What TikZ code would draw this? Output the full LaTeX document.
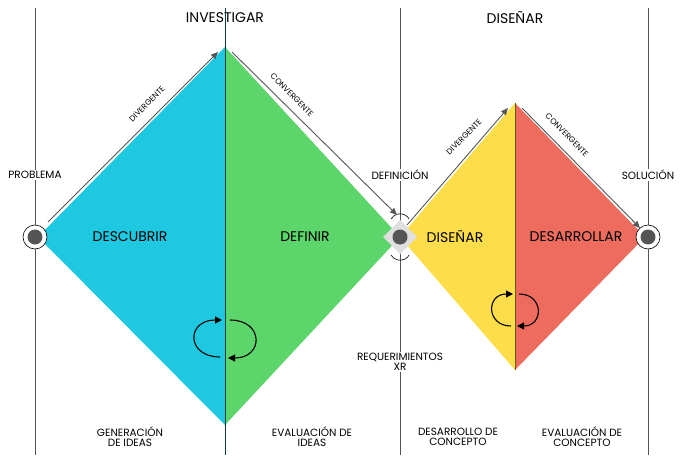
\documentclass[tikz,border=0pt]{standalone}
\usepackage{fontspec}
\setmainfont{Poppins}
\usetikzlibrary{arrows.meta}
\definecolor{cy}{HTML}{1EC8E0}
\definecolor{gr}{HTML}{5CD66A}
\definecolor{ye}{HTML}{FDDE4A}
\definecolor{re}{HTML}{EE6C5E}
\definecolor{dg}{HTML}{555555}
\begin{document}
\begin{tikzpicture}[x=1pt,y=-1pt,
 lbl/.style={font=\fontsize{10.5}{12}\selectfont,align=center},
 big/.style={font=\fontsize{14}{16}\selectfont},
 head/.style={font=\fontsize{14}{16}\selectfont},
 dia/.style={font=\fontsize{8}{9}\selectfont,inner sep=1pt},
 flow/.style={draw=dg,line width=0.9pt,-{Triangle[length=7pt,width=6pt]}},
 cyc/.style={draw=black,line width=1.1pt,-{Triangle[length=7pt,width=7pt]}},
 vl/.style={draw=dg,line width=0.7pt}]
\useasboundingbox (0,0) rectangle (690,460);
\fill[white] (0,0) rectangle (690,460);
\draw[vl] (35,8) -- (35,455);
\draw[vl] (400,8) -- (400,455);
\draw[vl] (648,8) -- (648,455);
\fill[cy] (38,237) -- (225,47) -- (225,425) -- cycle;
\fill[gr] (225,47) -- (400,237) -- (225,425) -- cycle;
\fill[ye] (400,237) -- (515,103) -- (515,370) -- cycle;
\fill[re] (515,103) -- (645,237) -- (515,370) -- cycle;
\draw[draw=black!70!cy,line width=0.8pt] (225,8) -- (225,455);
\draw[draw=black!60!ye,line width=0.8pt] (515,103) -- (515,370);
\fill[gray!25] (400,220) -- (417,237) -- (400,254) -- (383,237) -- cycle;
\foreach \x/\n in {35/p1,648/p3}{
 \fill[white] (\x,237) circle (12);
 \draw[black,line width=0.6pt] (\x,237) circle (12);
 \fill[dg] (\x,237) circle (7.5) node (\n) {};}
\draw[black,line width=0.6pt] (391,219) arc (-150:-30:10.5);
\draw[black,line width=0.6pt] (391,255) arc (150:30:10.5);
\fill[dg] (400,237) circle (7.5) node (p2) {};
\node[head] (inv) at (225,18) {INVESTIGAR};
\node[head] (dis) at (515,18) {DISEÑAR};
\node[lbl,fill=white,inner sep=1pt] (prob) at (35,175) {PROBLEMA};
\node[lbl,fill=white,inner sep=1pt] (defi) at (400,175) {DEFINICIÓN};
\node[lbl,fill=white,inner sep=1pt] (sol) at (648,175) {SOLUCIÓN};
\node[big] (d1) at (130,237) {DESCUBRIR};
\node[big] (d2) at (305,237) {DEFINIR};
\node[big] (d3) at (455,237) {DISEÑAR};
\node[big] (d4) at (576,237) {DESARROLLAR};
\node[lbl,fill=white,inner sep=1pt] (req) at (400,362) {REQUERIMIENTOS\\[-2pt]XR};
\node[lbl] (b1) at (130,437) {GENERACIÓN\\[-2pt]DE IDEAS};
\node[lbl] (b2) at (312,437) {EVALUACIÓN DE\\[-2pt]IDEAS};
\node[lbl] (b3) at (458,437) {DESARROLLO DE\\[-2pt]CONCEPTO};
\node[lbl] (b4) at (582,437) {EVALUACIÓN DE\\[-2pt]CONCEPTO};
\coordinate (a1) at (48,222); \coordinate (a2) at (218,52);
\coordinate (a3) at (232,52); \coordinate (a4) at (397,215);
\coordinate (a5) at (407,225); \coordinate (a6) at (508,108);
\coordinate (a7) at (522,108); \coordinate (a8) at (640,228);
\draw[flow] (a1) -- (a2);
\draw[flow] (a3) -- (a4);
\draw[flow] (a5) -- (a6);
\draw[flow] (a7) -- (a8);
\node[dia,rotate=45] (t1) at (147,104) {DIVERGENTE};
\node[dia,rotate=-45] (t2) at (292,95) {CONVERGENTE};
\node[dia,rotate=45] (t3) at (464,137) {DIVERGENTE};
\node[dia,rotate=-45] (t4) at (567,135) {CONVERGENTE};
\draw[cyc] (220,357) .. controls (186,357) and (186,320) .. (222,320);
\draw[cyc] (230,320) .. controls (264,320) and (264,358) .. (228,358);
\draw[cyc] (511,326) .. controls (486,326) and (486,294) .. (513,294);
\draw[cyc] (519,294) .. controls (544,294) and (544,326) .. (517,326);
\end{tikzpicture}
\end{document}
